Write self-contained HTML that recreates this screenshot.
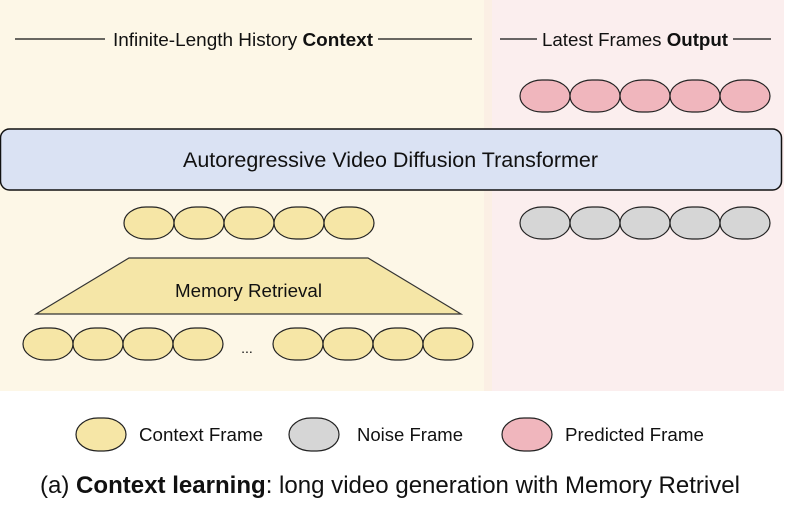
<!DOCTYPE html>
<html><head><meta charset="utf-8"><style>
body{margin:0;background:#fff;width:788px;height:516px;overflow:hidden;font-family:"Liberation Sans",Arial,sans-serif;}
</style></head><body>
<svg width="788" height="516" viewBox="0 0 788 516" xmlns="http://www.w3.org/2000/svg" font-family="Liberation Sans, Arial, sans-serif">
<rect x="0" y="0" width="484" height="391" fill="#fdf7e7"/>
<rect x="484" y="0" width="8" height="391" fill="#fbefe4"/>
<rect x="492" y="0" width="292" height="391" fill="#fbeeee"/>
<g stroke="#111" stroke-width="1.3">
<line x1="15" y1="39" x2="105" y2="39"/><line x1="378" y1="39" x2="472" y2="39"/>
<line x1="500" y1="39" x2="537" y2="39"/><line x1="733" y1="39" x2="771" y2="39"/>
</g>
<text x="113" y="46" font-size="18" textLength="260" lengthAdjust="spacingAndGlyphs" fill="#111">Infinite-Length History <tspan font-weight="bold">Context</tspan></text>
<text x="542" y="46" font-size="18" textLength="186" lengthAdjust="spacingAndGlyphs" fill="#111">Latest Frames <tspan font-weight="bold">Output</tspan></text>
<defs>
<rect id="p" width="50" height="32" rx="22" ry="16" stroke="#222" stroke-width="1.2"/>
</defs>
<g fill="#f0b6bd"><use href="#p" x="520" y="80"/><use href="#p" x="570" y="80"/><use href="#p" x="620" y="80"/><use href="#p" x="670" y="80"/><use href="#p" x="720" y="80"/></g>
<rect x="0.5" y="129" width="781" height="61" rx="9" fill="#dae2f3" stroke="#111" stroke-width="1.5"/>
<text x="183" y="167" font-size="21" textLength="415" lengthAdjust="spacingAndGlyphs" fill="#111">Autoregressive Video Diffusion Transformer</text>
<g fill="#f6e6a6"><use href="#p" x="124" y="207"/><use href="#p" x="174" y="207"/><use href="#p" x="224" y="207"/><use href="#p" x="274" y="207"/><use href="#p" x="324" y="207"/></g>
<g fill="#d6d6d6"><use href="#p" x="520" y="207"/><use href="#p" x="570" y="207"/><use href="#p" x="620" y="207"/><use href="#p" x="670" y="207"/><use href="#p" x="720" y="207"/></g>
<polygon points="129,258 368,258 461,314 36,314" fill="#f5e6a7" stroke="#333" stroke-width="1.2"/>
<text x="175" y="297" font-size="18" textLength="147" lengthAdjust="spacingAndGlyphs" fill="#111">Memory Retrieval</text>
<g fill="#f6e6a6"><use href="#p" x="23" y="328"/><use href="#p" x="73" y="328"/><use href="#p" x="123" y="328"/><use href="#p" x="173" y="328"/>
<use href="#p" x="273" y="328"/><use href="#p" x="323" y="328"/><use href="#p" x="373" y="328"/><use href="#p" x="423" y="328"/></g>
<text x="247" y="353" font-size="14" text-anchor="middle" fill="#111">...</text>
<rect x="76" y="418" width="50" height="33" rx="22" ry="16.5" fill="#f6e6a6" stroke="#222" stroke-width="1.2"/>
<text x="139" y="441" font-size="18" textLength="124" lengthAdjust="spacingAndGlyphs" fill="#111">Context Frame</text>
<rect x="289" y="418" width="50" height="33" rx="22" ry="16.5" fill="#d6d6d6" stroke="#222" stroke-width="1.2"/>
<text x="357" y="441" font-size="18" textLength="106" lengthAdjust="spacingAndGlyphs" fill="#111">Noise Frame</text>
<rect x="502" y="418" width="50" height="33" rx="22" ry="16.5" fill="#f0b6bd" stroke="#222" stroke-width="1.2"/>
<text x="565" y="441" font-size="18" textLength="139" lengthAdjust="spacingAndGlyphs" fill="#111">Predicted Frame</text>
<text x="40" y="493" font-size="24" textLength="700" lengthAdjust="spacingAndGlyphs" fill="#111">(a) <tspan font-weight="bold">Context learning</tspan>: long video generation with Memory Retrivel</text>
</svg>
</body></html>
